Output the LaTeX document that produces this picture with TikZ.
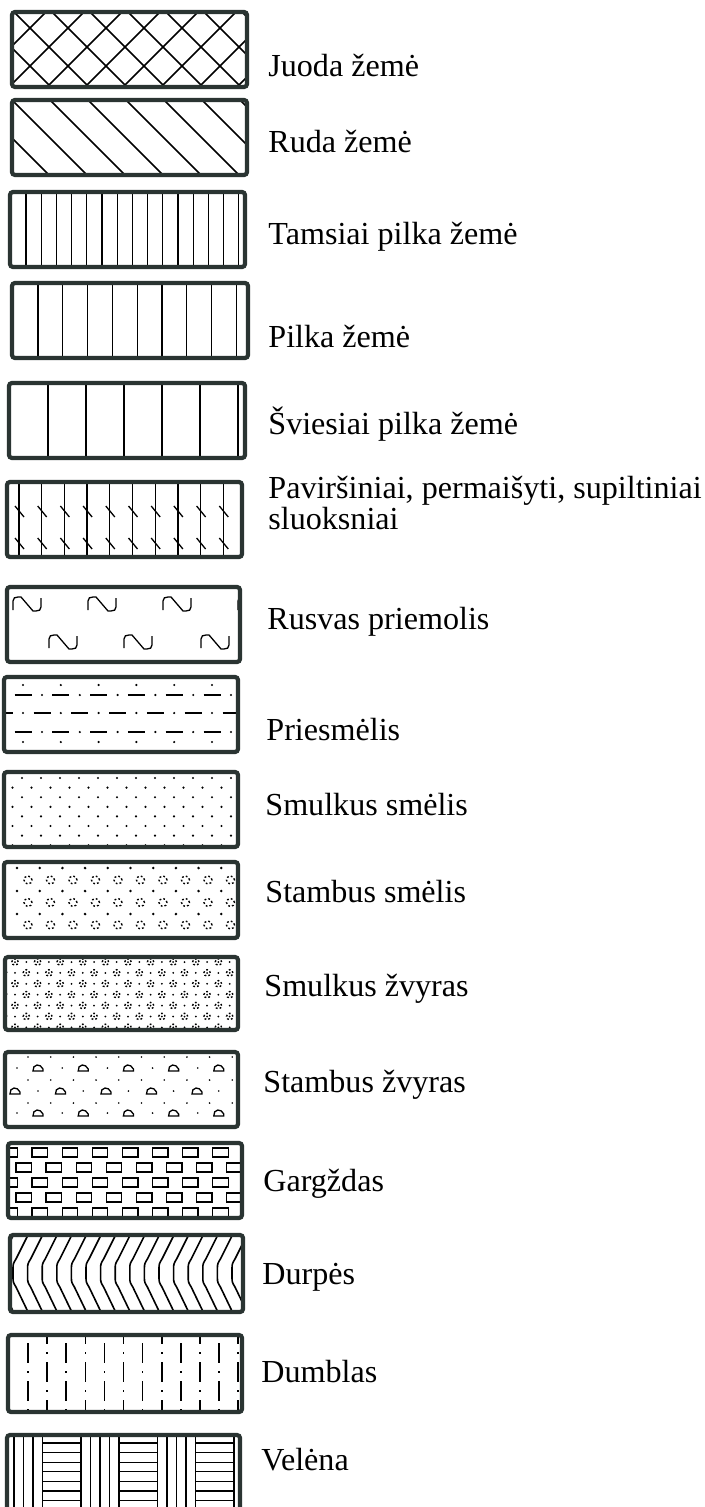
\documentclass[tikz,border=0pt]{standalone}
\usepackage{fontspec}
\setmainfont{Liberation Serif}
\usepackage{tikz}
\usepackage{xcolor}
\definecolor{framegray}{RGB}{42,52,50}
\tikzset{soilframe/.style={line width=2.1pt,framegray,rounded corners=1.5pt}}
\tikzset{hatch/.style={line width=0.8pt,black}}
\tikzset{thinline/.style={line width=0.65pt,black}}
\tikzset{dotring/.style={line width=0.7pt,black,dash pattern=on 0.9pt off 1.1pt}}
\tikzset{soillabel/.style={anchor=base west,inner sep=0pt,font=\fontsize{16.05}{19}\selectfont}}

\begin{document}
\begin{tikzpicture}[x=0.5pt,y=-0.5pt]
  \clip (0,0) rectangle (705,1507);
  \fill[white] (0,0) rectangle (705,1507);

  % juoda zeme: cross hatch
  \begin{scope}
    \clip (12,12) rectangle (247,87);
    \foreach \hc in {-112,-74,...,268} \draw[hatch] (\hc+12,12) -- (\hc+87,87);
    \foreach \hs in {20,58,...,362} \draw[hatch] (\hs-12,12) -- (\hs-87,87);
  \end{scope}
  \draw[soilframe] (12,12) rectangle (247,87);

  % ruda zeme: single hatch
  \begin{scope}
    \clip (12,100) rectangle (247,175);
    \foreach \hc in {-164,-126,...,140} \draw[hatch] (\hc+100,100) -- (\hc+175,175);
  \end{scope}
  \draw[soilframe] (12,100) rectangle (247,175);

  % tamsiai pilka zeme
  \foreach \i in {0,...,14} \draw[thinline] ({26+15.2*\i},192) -- ({26+15.2*\i},267);
  \draw[soilframe] (10,192) rectangle (245,267);

  % pilka zeme
  \foreach \i in {0,...,8} \draw[thinline] ({38+24.8*\i},283) -- ({38+24.8*\i},358);
  \draw[soilframe] (12,283) rectangle (248,358);

  % sviesiai pilka zeme
  \foreach \i in {0,...,5} \draw[thinline] ({48+38*\i},383) -- ({48+38*\i},458);
  \draw[soilframe] (9,383) rectangle (245,458);

  % pavirsiniai sluoksniai: lines with ticks
  \foreach \i in {0,...,9}{
    \draw[thinline] ({19+22.7*\i},482) -- ({19+22.7*\i},557);
    \foreach \yy in {512,544}
      \draw[thinline] ({15+22.7*\i},{\yy-6}) -- ({24+22.7*\i},{\yy+5});
  }
  \draw[soilframe] (7,482) rectangle (242,557);

  % rusvas priemolis
  \begin{scope}
    \clip (7,587) rectangle (240,662);
    \foreach \gx/\gy in {27/604,102/604,177/604,252/604,-12/642,63/642,138/642,215/642}
      \draw[thinline,shift={(\gx,\gy)}] (-14,6) -- (-14,-3) .. controls (-14,-6) and (-12,-7) .. (-9,-7)
        -- (-6,-7) -- (6,7) -- (9,7) .. controls (12,7) and (14,6) .. (14,3) -- (14,-6);
  \end{scope}
  \draw[soilframe] (7,587) rectangle (240,662);

  % priesmelis: dashes and dots
  \begin{scope}
    \clip (4,677) rectangle (238,752);
    \foreach \i [evaluate=\i as \pa using 23+37.8*\i, evaluate=\i as \pb using 42+37.8*\i] in {-1,...,6}{
      \fill (\pa,685) circle[radius=0.6pt];
      \draw[thinline] (\pa-8.5,695) -- (\pa+8.5,695);
      \fill (\pb,695) circle[radius=0.6pt];
      \draw[thinline] (\pb-8.5,713) -- (\pb+8.5,713);
      \fill (\pa,713) circle[radius=0.6pt];
      \draw[thinline] (\pa-8.5,732) -- (\pa+8.5,732);
      \fill (\pb,732) circle[radius=0.6pt];
      \fill (\pa,742) circle[radius=0.6pt];
    }
  \end{scope}
  \draw[soilframe] (4,677) rectangle (238,752);

  % smulkus smelis
  \begin{scope}
    \clip (4,772) rectangle (238,847);
    \foreach \j in {0,...,7}
      \foreach \i in {0,...,12}
        \fill ({22+19*\i-9.5*mod(\j,2)},{778+9.6*\j}) circle[radius=0.6pt];
  \end{scope}
  \draw[soilframe] (4,772) rectangle (238,847);

  % stambus smelis
  \begin{scope}
    \clip (4,862) rectangle (238,938);
    \foreach \j in {0,1,2}
      \foreach \i in {0,...,9}{
        \fill ({17+22.7*\i},{868+23*\j}) circle[radius=0.7pt];
        \draw[dotring] ({28+22.5*\i},{880+22.5*\j}) circle[radius=2pt];
      }
  \end{scope}
  \draw[soilframe] (4,862) rectangle (238,938);

  % smulkus zvyras
  \begin{scope}
    \clip (5,957) rectangle (238,1030);
    \foreach \j in {0,...,6}
      \foreach \i in {-1,...,10}{
        \draw[dotring] ({15+22.6*\i+11.3*mod(\j,2)},{962+10.9*\j}) circle[radius=1.6pt];
        \fill ({15+22.6*\i+11.3*mod(\j,2)},{962+10.9*\j}) circle[radius=0.5pt];
        \fill ({26.3+22.6*\i-11.3*mod(\j,2)},{962+10.9*\j}) circle[radius=0.5pt];
      }
  \end{scope}
  \draw[soilframe] (5,957) rectangle (238,1030);

  % stambus zvyras: pebbles
  \begin{scope}
    \clip (5,1052) rectangle (238,1127);
    \foreach \i in {-1,...,9}
      \foreach \yy in {1057,1080,1103}
        \fill ({28+22.7*\i},\yy) circle[radius=0.45pt];
    \foreach \i in {0,...,4}{
      \foreach \yy in {1068,1113}{
        \fill ({17+45.2*\i},\yy) circle[radius=0.45pt];
        \draw[thinline,shift={({38+45.2*\i},\yy)}] (-5,3) -- (5,3) -- (5,1)
          .. controls (4,-2) and (1,-3) .. (-1,-3) .. controls (-4,-3) and (-5,0) .. (-5,3) -- cycle;
      }
      \fill ({38+45.2*\i},1091) circle[radius=0.45pt];
      \draw[thinline,shift={({15+45.5*\i},1091)}] (-5,3) -- (5,3) -- (5,1)
        .. controls (4,-2) and (1,-3) .. (-1,-3) .. controls (-4,-3) and (-5,0) .. (-5,3) -- cycle;
    }
  \end{scope}
  \draw[soilframe] (5,1052) rectangle (238,1127);

  % gargzdas: bricks
  \begin{scope}
    \clip (8,1143) rectangle (242,1218);
    \foreach \r in {0,...,4}
      \foreach \k in {0,...,7}
        \draw[thinline] ({2+14*mod(\r,2)+30.1*\k},{1148+15*\r}) rectangle +(15.5,9);
  \end{scope}
  \draw[soilframe] (8,1143) rectangle (242,1218);

  % durpes: chevrons
  \begin{scope}
    \clip (10,1235) rectangle (243,1312);
    \foreach \k in {-1,...,16}
      \draw[hatch,shift={({13+14.6*\k},0)}] (16,1233) -- (3,1259) .. controls (0.5,1263) and (0,1264) .. (0,1268)
        -- (0,1278) .. controls (0,1282) and (0.5,1283) .. (3,1287) -- (16,1314);
  \end{scope}
  \draw[soilframe] (10,1235) rectangle (243,1312);

  % dumblas: dash-dot columns
  \begin{scope}
    \clip (8,1335) rectangle (242,1412);
    \foreach \i in {0,...,11}
      \draw[hatch,dash pattern=on 10pt off 4.2pt on 0.6pt off 4.2pt] ({28+19.1*\i},{1324-19*mod(\i+1,2)}) -- ++(0,130);
  \end{scope}
  \draw[soilframe] (8,1335) rectangle (242,1412);

  % velena: vertical groups and horizontal bands
  \begin{scope}
    \clip (7,1435) rectangle (240,1530);
    \foreach \vb in {4.5,81,157.5,234}
      \foreach \m in {0,...,4}
        \draw[thinline] ({\vb+9.5*\m},1435) -- ({\vb+9.5*\m},1530);
    \foreach \vb in {42.5,119,196}
      \foreach \n in {0,...,7}
        \draw[thinline] (\vb,{1443+9.6*\n}) -- ({\vb+38.5},{1443+9.6*\n});
  \end{scope}
  \draw[soilframe] (7,1530) -- (7,1435) -- (240,1435) -- (240,1530);

  % labels
  \node[soillabel] (juoda) at (268,77) {Juoda žemė};
  \node[soillabel] (ruda) at (268,153) {Ruda žemė};
  \node[soillabel] (tamsiai) at (268,245) {Tamsiai pilka žemė};
  \node[soillabel] (pilka) at (268,348) {Pilka žemė};
  \node[soillabel] (sviesiai) at (268,435) {Šviesiai pilka žemė};
  \node[soillabel] (pavirs) at (268,499) {Paviršiniai, permaišyti, supiltiniai};
  \node[soillabel] (sluoksn) at (268,530) {sluoksniai};
  \node[soillabel] (rusvas) at (267,629) {Rusvas priemolis};
  \node[soillabel] (priesm) at (266,740) {Priesmėlis};
  \node[soillabel] (smsmel) at (265,815) {Smulkus smėlis};
  \node[soillabel] (stsmel) at (265,902) {Stambus smėlis};
  \node[soillabel] (smzvyr) at (264,996) {Smulkus žvyras};
  \node[soillabel] (stzvyr) at (263,1092) {Stambus žvyras};
  \node[soillabel] (gargzd) at (263,1191) {Gargždas};
  \node[soillabel] (durpes) at (262,1284) {Durpės};
  \node[soillabel] (dumbl) at (261,1382) {Dumblas};
  \node[soillabel] (velena) at (261,1470) {Velėna};
\end{tikzpicture}
\end{document}
